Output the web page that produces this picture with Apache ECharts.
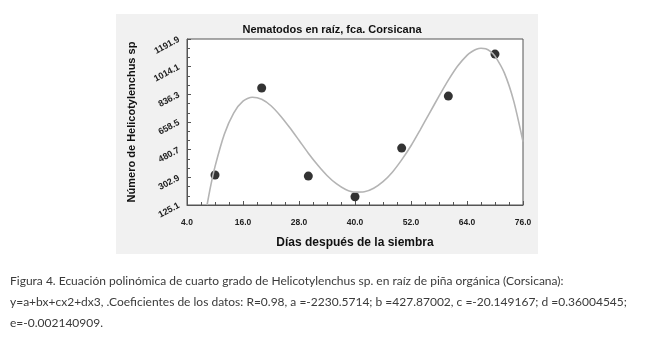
<!DOCTYPE html>
<html>
<head>
<meta charset="utf-8">
<script src="https://cdn.jsdelivr.net/npm/echarts@6/dist/echarts.min.js"></script>
<style>
  html, body { margin: 0; padding: 0; background: #ffffff; }
  #chart { width: 662px; height: 341px; }
</style>
</head>
<body>
<div id="chart"></div>
<script>
// Observed counts (days after planting vs. nematodes)
const diasObs = [10, 20, 30, 40, 50, 60, 70]
const nematodosObs = [318, 877, 311, 178, 491, 825, 1095]

// Fitted curve
const diasCurva = [8.3, 9, 10, 12, 14, 16, 18, 20, 22, 24, 26, 28, 30, 32, 34, 36, 38, 40, 42, 44, 46, 48, 50, 52, 54, 56, 58, 60, 62, 64, 65, 66, 67, 68, 69, 70, 72, 74, 76]
const nematodosCurva = [125, 237, 372, 580, 716, 792, 818, 805, 763, 699, 623, 541, 458, 382, 315, 262, 225, 208, 210, 233, 275, 336, 415, 506, 610, 717, 825, 928, 1019, 1087, 1110, 1126, 1132, 1129, 1112, 1082, 974, 794, 532]

// Tick labels
const xTicks = ['4.0', '16.0', '28.0', '40.0', '52.0', '64.0', '76.0']
const yTicks = ['125.1', '302.9', '480.7', '658.5', '836.3', '1014.1', '1191.9']

const caption = [
  'Figura 4. Ecuación polinómica de cuarto grado de Helicotylenchus sp. en raíz de piña orgánica (Corsicana):',
  'y=a+bx+cx2+dx3, .Coeficientes de los datos: R=0.98, a =-2230.5714; b =427.87002, c =-20.149167; d =0.36004545;',
  'e=-0.002140909.',
]

const chart = echarts.init(document.getElementById('chart'))

const axisColor = '#555'
const labelStyle = { color: '#222', fontFamily: 'Liberation Sans, Arial', fontWeight: 'bold', fontSize: 8.5 }

const option = {
  animation: false,
  backgroundColor: '#ffffff',
  title: {
    text: 'Nematodos en raíz, fca. Corsicana',
    left: 327,
    top: 19,
    textAlign: 'center',
    textStyle: { fontFamily: 'Liberation Sans, Arial', fontWeight: 'bold', fontSize: 11, color: '#111' },
  },
  graphic: [
    {
      type: 'rect',
      z: -10,
      shape: { x: 116, y: 14, width: 422, height: 240 },
      style: { fill: '#f1f1f1' },
    },
    ...caption.map((line, i) => ({
      type: 'text',
      left: 10,
      top: 275 + i * 21,
      style: {
        text: line,
        fill: '#3a3a3a',
        font: '12px Lato, "Open Sans", sans-serif',
      },
    })),
  ],
  grid: {
    left: 187,
    right: 139,
    top: 39,
    bottom: 136,
    show: true,
    backgroundColor: '#ffffff',
    borderColor: axisColor,
    borderWidth: 1,
  },
  xAxis: [
    {
      // data axis
      type: 'value',
      min: 4,
      max: 76,
      show: false,
    },
    {
      // label axis, one step per tick label
      type: 'value',
      min: 0,
      max: xTicks.length - 1,
      interval: 1,
      position: 'bottom',
      name: 'Días después de la siembra',
      nameLocation: 'middle',
      nameGap: 32,
      nameTextStyle: { fontFamily: 'Liberation Sans, Arial', fontWeight: 'bold', fontSize: 12, color: '#111' },
      axisLine: { show: true, lineStyle: { color: axisColor } },
      axisTick: { show: true, inside: true, length: 4, lineStyle: { color: axisColor } },
      minorTick: { show: true, splitNumber: 4, length: 3, lineStyle: { color: axisColor } },
      splitLine: { show: false },
      axisLabel: {
        ...labelStyle,
        margin: 13,
        formatter: v => xTicks[Math.round(v)],
      },
    },
  ],
  yAxis: [
    {
      type: 'value',
      min: 125.1,
      max: 1191.9,
      show: false,
    },
    {
      type: 'value',
      min: 0,
      max: yTicks.length - 1,
      interval: 1,
      position: 'left',
      name: 'Número de Helicotylenchus sp',
      nameLocation: 'middle',
      nameGap: 50,
      nameTextStyle: { fontFamily: 'Liberation Sans, Arial', fontWeight: 'bold', fontSize: 11, color: '#111' },
      axisLine: { show: true, lineStyle: { color: axisColor } },
      axisTick: { show: true, inside: true, length: 4, lineStyle: { color: axisColor } },
      minorTick: { show: true, splitNumber: 3, length: 3, lineStyle: { color: axisColor } },
      splitLine: { show: false },
      axisLabel: {
        ...labelStyle,
        fontSize: 9,
        rotate: 28,
        margin: 8,
        formatter: v => yTicks[Math.round(v)],
      },
    },
  ],
  series: [
    {
      name: 'Ajuste',
      type: 'line',
      xAxisIndex: 0,
      yAxisIndex: 0,
      smooth: 0.25,
      showSymbol: false,
      clip: true,
      lineStyle: { color: '#b4b4b4', width: 1.6 },
      data: diasCurva.map((d, i) => [d, nematodosCurva[i]]),
    },
    {
      name: 'Observado',
      type: 'scatter',
      xAxisIndex: 0,
      yAxisIndex: 0,
      symbolSize: 9,
      itemStyle: { color: '#000' },
      data: diasObs.map((d, i) => [d, nematodosObs[i]]),
    },
  ],
}

chart.setOption(option)
</script>
</body>
</html>
